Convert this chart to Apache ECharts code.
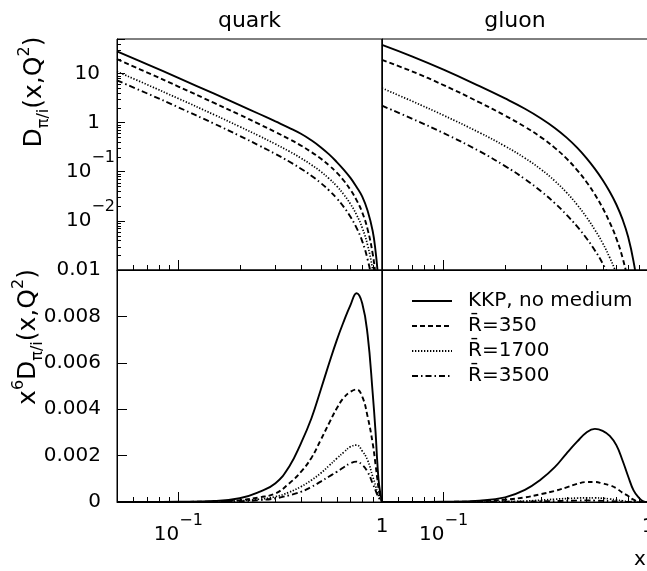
<!DOCTYPE html>
<html><head><meta charset="utf-8">
<script src="https://cdn.jsdelivr.net/npm/echarts@6/dist/echarts.min.js"></script>
<style>html,body{margin:0;padding:0;background:#fff}#c{width:647px;height:571px}</style>
</head><body><div id="c"></div>
<script>
const seriesNames = ['KKP, no medium', 'R\u0304=350', 'R\u0304=1700', 'R\u0304=3500'];
const panelTitles = ['quark', 'gluon'];

const quarkX = [0.05, 0.07, 0.1, 0.15, 0.2, 0.25, 0.3, 0.35, 0.4, 0.45, 0.5, 0.55, 0.6, 0.65, 0.7, 0.75, 0.8, 0.85, 0.9, 0.93, 0.95, 0.97, 1.0];
const quarkD_KKP   = [28, 15.4, 8.1, 3.85, 2.26, 1.49, 1.05, 0.78, 0.59, 0.435, 0.315, 0.225, 0.157, 0.109, 0.075, 0.049, 0.031, 0.016, 0.0062, 0.0024, 0.001, 0.0003, 0.0001];
const quarkD_R350  = [19.4, 10.5, 5.4, 2.5, 1.44, 0.925, 0.64, 0.461, 0.34, 0.251, 0.185, 0.134, 0.0953, 0.0653, 0.0428, 0.0264, 0.0148, 0.0067, 0.00214, 0.00075, 0.0003, 0.0001, 0.0001];
const quarkD_R1700 = [10.9, 5.94, 3.08, 1.44, 0.826, 0.53, 0.364, 0.26, 0.189, 0.138, 0.101, 0.0723, 0.0506, 0.0341, 0.022, 0.0133, 0.0072, 0.0032, 0.00102, 0.0004, 0.0002, 0.0001, 0.0001];
const quarkD_R3500 = [7.2, 3.94, 2.04, 0.945, 0.536, 0.339, 0.229, 0.161, 0.115, 0.0828, 0.059, 0.0415, 0.0285, 0.019, 0.0121, 0.0072, 0.00383, 0.00164, 0.00052, 0.0002, 0.0001, 0.0001, 0.0001];

const quarkX6D_KKP   = [0, 0, 0.00001, 0.00004, 0.00016, 0.00044, 0.00081, 0.00152, 0.00253, 0.0036, 0.00483, 0.00598, 0.00698, 0.0078, 0.00849, 0.0090, 0.00856, 0.0072, 0.0047, 0.003, 0.0016, 0.00066, 0];
const quarkX6D_R350  = [0, 0, 0.000005, 0.00002, 0.00008, 0.0002, 0.00037, 0.0008, 0.0013, 0.0019, 0.00267, 0.0034, 0.00404, 0.0045, 0.00475, 0.00485, 0.00454, 0.00368, 0.00253, 0.0016, 0.00095, 0.0004, 0];
const quarkX6D_R1700 = [0, 0, 0.000003, 0.00001, 0.00005, 0.00012, 0.00023, 0.00042, 0.00066, 0.00094, 0.00124, 0.00157, 0.00188, 0.00215, 0.00238, 0.00245, 0.0022, 0.0018, 0.0011, 0.0007, 0.0004, 0.0002, 0];
const quarkX6D_R3500 = [0, 0, 0.000002, 0.000008, 0.00003, 0.00008, 0.00016, 0.00029, 0.00044, 0.00065, 0.00088, 0.0011, 0.0013, 0.0015, 0.00167, 0.00174, 0.0016, 0.0013, 0.0008, 0.0005, 0.0003, 0.00015, 0];

const gluonX = [0.05, 0.07, 0.1, 0.15, 0.2, 0.25, 0.3, 0.35, 0.4, 0.45, 0.5, 0.55, 0.6, 0.65, 0.7, 0.75, 0.8, 0.85, 0.9, 0.95, 1.0];
const gluonD_KKP   = [38, 22.2, 11.9, 5.5, 3.09, 1.91, 1.21, 0.776, 0.493, 0.308, 0.189, 0.114, 0.0678, 0.039, 0.0215, 0.0108, 0.00467, 0.00148, 0.00032, 0.00003, 0.00001];
const gluonD_R350  = [18.8, 11.0, 5.77, 2.56, 1.38, 0.817, 0.499, 0.305, 0.184, 0.108, 0.0618, 0.0342, 0.0183, 0.00925, 0.0044, 0.0018, 0.00056, 0.0001, 0.00003, 0.00001, 0.00001];
const gluonD_R1700 = [5.0, 2.73, 1.40, 0.621, 0.33, 0.189, 0.111, 0.0648, 0.0375, 0.0213, 0.0119, 0.00653, 0.00352, 0.00178, 0.00085, 0.00035, 0.0001, 0.00003, 0.00001, 0.00001, 0.00001];
const gluonD_R3500 = [2.2, 1.2, 0.61, 0.26, 0.13, 0.0706, 0.0398, 0.0229, 0.0132, 0.00768, 0.00443, 0.0025, 0.00136, 0.00069, 0.00033, 0.0001, 0.00003, 0.00001, 0.00001, 0.00001, 0.00001];

const gluonX6D_KKP   = [0, 0, 0.00001, 0.00006, 0.0002, 0.00052, 0.00098, 0.0015, 0.0021, 0.0026, 0.003, 0.00315, 0.00307, 0.00285, 0.00245, 0.0018, 0.0011, 0.0005, 0.0002, 0.00003, 0];
const gluonX6D_R350  = [0, 0, 0.000005, 0.00003, 0.0001, 0.0002, 0.00034, 0.00048, 0.00063, 0.00078, 0.00086, 0.00086, 0.0008, 0.00072, 0.00059, 0.0004, 0.00026, 0.0001, 0.00002, 0, 0];
const gluonX6D_R1700 = [0, 0, 0, 0.000007, 0.00002, 0.00004, 0.00008, 0.00012, 0.00015, 0.00017, 0.00018, 0.00018, 0.00016, 0.00013, 0.00009, 0.00005, 0.00002, 0.00001, 0, 0, 0];
const gluonX6D_R3500 = [0, 0, 0, 0.000003, 0.000008, 0.000016, 0.00003, 0.00004, 0.00005, 0.00006, 0.00007, 0.00006, 0.00005, 0.00004, 0.00002, 0.00001, 0, 0, 0, 0, 0];

// tick positions / labels
const xMinorTicks = [0.06, 0.07, 0.08, 0.09, 0.2, 0.3, 0.4, 0.5, 0.6, 0.7, 0.8, 0.9];
const yTopMinorTicks = [0.002,0.003,0.004,0.005,0.006,0.007,0.008,0.009,
  0.02,0.03,0.04,0.05,0.06,0.07,0.08,0.09, 0.2,0.3,0.4,0.5,0.6,0.7,0.8,0.9,
  2,3,4,5,6,7,8,9, 20,30,40];
const yTopTickLabels = [[10, '10', ''], [1, '1', ''], [0.1, '10', '\u22121'], [0.01, '10', '\u22122']];
const xTickLabels = [[0.1, '10', '\u22121'], [1, '1', '']];

const FONT = 'DejaVu Sans';
const chart = echarts.init(document.getElementById('c'), null, {renderer: 'canvas', width: 647, height: 571});

function findLabel(list, v) {
  for (const t of list) { if (Math.abs(Math.log10(v) - Math.log10(t[0])) < 1e-6) return t; }
  return null;
}
function fmtYTop(v) {
  const t = findLabel(yTopTickLabels, v);
  if (!t) return '';
  return t[2] ? '{b|' + t[1] + '}{s|' + t[2] + '}' : '{p|' + t[1] + '}';
}
function fmtX(v) {
  const t = findLabel(xTickLabels, v);
  if (!t) return '';
  return t[2] ? '{b|' + t[1] + '}{s|' + t[2] + '}' : '{p|' + t[1] + '}';
}

const gridBase = {show: true, borderColor: '#000', borderWidth: 1, backgroundColor: 'transparent', containLabel: false, outerBoundsMode: 'none'};
const grids = [
  Object.assign({left: 117, top: 39, width: 265, height: 231}, gridBase),
  Object.assign({left: 382, top: 39, width: 266, height: 231}, gridBase),
  Object.assign({left: 117, top: 270, width: 265, height: 232}, gridBase),
  Object.assign({left: 382, top: 270, width: 266, height: 232}, gridBase)
];

const black = {color: '#000', width: 1};
const xAxes = [0, 1, 2, 3].map(gi => ({
  gridIndex: gi, type: 'log', logBase: 10, min: 0.05, max: 1,
  axisLine: {show: true, lineStyle: black},
  axisTick: {show: true, inside: true, length: 10, lineStyle: black},
  splitLine: {show: false},
  axisLabel: {
    show: gi >= 2, margin: 11, color: '#000', fontFamily: FONT, fontSize: 20,
    showMinLabel: true, showMaxLabel: true, hideOverlap: false,
    formatter: fmtX,
    rich: {
      b: {fontFamily: FONT, fontSize: 20, color: '#000', padding: [12, 0, 12, 0], verticalAlign: 'middle'},
      s: {fontFamily: FONT, fontSize: 16, color: '#000', verticalAlign: 'top'},
      p: {fontFamily: FONT, fontSize: 20, color: '#000', padding: [4, 0, 4, 0]}
    }
  }
}));
const yAxes = [0, 1, 2, 3].map(gi => {
  const top = gi < 2, left = gi % 2 === 0;
  const ax = {
    gridIndex: gi,
    axisLine: {show: true, lineStyle: black},
    axisTick: {show: left, inside: true, length: top ? 8 : 10, lineStyle: black},
    splitLine: {show: false}
  };
  if (top) {
    Object.assign(ax, {type: 'log', logBase: 10, min: 0.001, max: 50});
    ax.axisLabel = {
      show: left, margin: 2, color: '#000', fontFamily: FONT, fontSize: 20,
      showMinLabel: true, showMaxLabel: true, formatter: fmtYTop,
      rich: {
        b: {fontFamily: FONT, fontSize: 20, color: '#000', padding: [12, 0, 12, 0], verticalAlign: 'middle'},
        s: {fontFamily: FONT, fontSize: 16, color: '#000', verticalAlign: 'top'},
        p: {fontFamily: FONT, fontSize: 20, color: '#000', padding: [0, 15, 0, 0]}
      }
    };
  } else {
    Object.assign(ax, {type: 'value', min: 0, max: 0.01, interval: 0.002});
    ax.axisLabel = {show: left, margin: 16, color: '#000', fontFamily: FONT, fontSize: 20, showMinLabel: true, showMaxLabel: true};
  }
  return ax;
});

const lineStyles = [
  {type: 'solid', width: 1.9},
  {type: [5, 3], width: 1.9},
  {type: [1.3, 1.7], width: 1.7},
  {type: [6, 3, 1.5, 3], width: 1.9}
];
function mkLine(si, xs, ys, gi) {
  return {
    name: seriesNames[si], type: 'line', xAxisIndex: gi, yAxisIndex: gi,
    data: xs.map((x, i) => [x, ys[i]]),
    symbol: 'none', showSymbol: false, smooth: 0.45, clip: true, silent: true, animation: false,
    lineStyle: {color: '#000', width: lineStyles[si].width, type: lineStyles[si].type},
    itemStyle: {color: '#000'}
  };
}
function tickSeries(gi, vals, base, dir, len) {
  return {
    type: 'custom', xAxisIndex: gi, yAxisIndex: gi, silent: true, animation: false, clip: false,
    data: vals.map(v => dir === 'x' ? [v, base] : [base, v]),
    renderItem: (params, api) => {
      const p = api.coord([api.value(0), api.value(1)]);
      const px = Math.round(p[0]) + 0.5, py = Math.round(p[1]) + 0.5;
      const shape = dir === 'x' ? {x1: px, y1: p[1], x2: px, y2: p[1] - len} : {x1: p[0], y1: py, x2: p[0] + len, y2: py};
      return {type: 'line', shape, style: {stroke: '#000', lineWidth: 1}};
    }
  };
}

const series = [
  mkLine(0, quarkX, quarkD_KKP, 0), mkLine(1, quarkX, quarkD_R350, 0), mkLine(2, quarkX, quarkD_R1700, 0), mkLine(3, quarkX, quarkD_R3500, 0),
  mkLine(0, gluonX, gluonD_KKP, 1), mkLine(1, gluonX, gluonD_R350, 1), mkLine(2, gluonX, gluonD_R1700, 1), mkLine(3, gluonX, gluonD_R3500, 1),
  mkLine(0, quarkX, quarkX6D_KKP, 2), mkLine(1, quarkX, quarkX6D_R350, 2), mkLine(2, quarkX, quarkX6D_R1700, 2), mkLine(3, quarkX, quarkX6D_R3500, 2),
  mkLine(0, gluonX, gluonX6D_KKP, 3), mkLine(1, gluonX, gluonX6D_R350, 3), mkLine(2, gluonX, gluonX6D_R1700, 3), mkLine(3, gluonX, gluonX6D_R3500, 3),
  tickSeries(0, xMinorTicks, 0.001, 'x', 5), tickSeries(1, xMinorTicks, 0.001, 'x', 5),
  tickSeries(2, xMinorTicks, 0, 'x', 5), tickSeries(3, xMinorTicks, 0, 'x', 5),
  tickSeries(0, yTopMinorTicks, 0.05, 'y', 4)
];

const nameRich = {
  m: {fontFamily: FONT, fontSize: 25, fill: '#000', padding: [5, 0, 5, 0], verticalAlign: 'middle'},
  sb: {fontFamily: FONT, fontSize: 16, fill: '#000', verticalAlign: 'bottom'},
  sp: {fontFamily: FONT, fontSize: 16, fill: '#000', verticalAlign: 'top'}
};

chart.setOption({
  animation: false,
  backgroundColor: '#fff',
  grid: grids,
  xAxis: xAxes,
  yAxis: yAxes,
  series: series,
  legend: {
    data: seriesNames, orient: 'vertical', left: 406, top: 286,
    itemWidth: 40, itemHeight: 14, itemGap: 5, selectedMode: false,
    itemStyle: {opacity: 0},
    textStyle: {fontFamily: FONT, fontSize: 20, color: '#000', padding: [0, 0, 0, 11]}
  },
  graphic: [
    {type: 'text', x: 249.5, y: 21, silent: true, style: {text: panelTitles[0], fontFamily: FONT, fontSize: 22, fill: '#000', align: 'center', verticalAlign: 'middle'}},
    {type: 'text', x: 515, y: 21, silent: true, style: {text: panelTitles[1], fontFamily: FONT, fontSize: 22, fill: '#000', align: 'center', verticalAlign: 'middle'}},
    {type: 'text', x: 34, y: 92, rotation: Math.PI / 2, silent: true,
      style: {text: '{m|D}{sb|\u03c0/i}{m|(x,Q}{sp|2}{m|)}', rich: nameRich, align: 'center', verticalAlign: 'middle'}},
    {type: 'text', x: 28, y: 337, rotation: Math.PI / 2, silent: true,
      style: {text: '{m|x}{sp|6}{m|D}{sb|\u03c0/i}{m|(x,Q}{sp|2}{m|)}', rich: nameRich, align: 'center', verticalAlign: 'middle'}},
    {type: 'text', x: 640, y: 560, silent: true, style: {text: 'x', fontFamily: FONT, fontSize: 20, fill: '#000', align: 'center', verticalAlign: 'middle'}}
  ]
});
</script>
</body></html>
